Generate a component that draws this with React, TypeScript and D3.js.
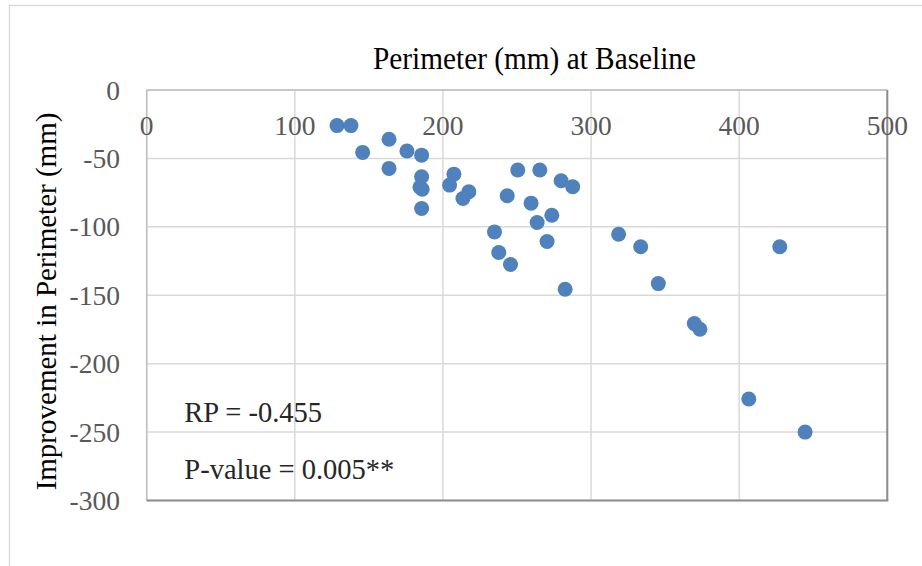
import React from "react";
import * as d3 from "d3";

const baselinePerimeter: number[] = [
  128.5, 137.9, 145.8, 163.6, 163.6, 175.7, 185.6, 185.6, 184.5, 186.0, 185.6,
  204.5, 207.4, 217.5, 213.5, 250.5, 265.4, 279.8, 287.6, 243.4, 259.5, 273.5,
  263.6, 234.8, 270.3, 237.7, 245.6, 282.5, 318.6, 333.5, 345.4, 427.4, 369.7,
  373.5, 406.5, 444.5,
];
const improvement: number[] = [
  -26, -26, -45.6, -36, -57.3, -44.6, -47.6, -63.4, -71, -72.5, -86.6,
  -69.5, -61.5, -74.4, -79.3, -58.5, -58.5, -66.3, -70.7, -77.3, -82.7, -91.5,
  -96.8, -103.7, -110.7, -118.8, -127.5, -145.6, -105.4, -114.6, -141.5, -114.6, -170.7,
  -174.9, -225.8, -250,
];
const xTicks: number[] = [0, 100, 200, 300, 400, 500];
const yTicks: number[] = [0, -50, -100, -150, -200, -250, -300];
const chartTitle = "Perimeter (mm) at Baseline";
const yTitle = "Improvement in Perimeter (mm)";
const annotations: string[] = ["RP = -0.455", "P-value = 0.005**"];

export default function App() {
  const W = 922;
  const H = 566;
  const left = 146.7;
  const right = 887.3;
  const top = 90;
  const bottom = 500.5;
  const x = d3.scaleLinear().domain([0, 500]).range([left, right]);
  const y = d3.scaleLinear().domain([0, -300]).range([top, bottom]);
  const font = "'Liberation Serif', 'Times New Roman', serif";
  const pts = baselinePerimeter.map((v, i) => ({ x: v, y: improvement[i] }));

  return (
    <svg
      width={W}
      height={H}
      style={{ position: "absolute", left: 0, top: 0, background: "#fff" }}
      fontFamily={font}
    >
      <rect x={0} y={0} width={W} height={H} fill="#fff" />
      <rect x={9.5} y={5.5} width={W} height={H} fill="none" stroke="#d9d9d9" strokeWidth={1.3} />
      <text
        transform="translate(534.5,68.5) scale(1,1.06)"
        textAnchor="middle"
        fontSize={29.3}
        fill="#000"
      >
        {chartTitle}
      </text>
      {/* gridlines */}
      {xTicks.map((t) => (
        <line key={"gx" + t} x1={x(t)} x2={x(t)} y1={top} y2={bottom} stroke="#d9d9d9" strokeWidth={1.5} />
      ))}
      {yTicks.map((t) => (
        <line key={"gy" + t} x1={left} x2={right} y1={y(t)} y2={y(t)} stroke="#d9d9d9" strokeWidth={1.5} />
      ))}
      {/* axis lines */}
      <line x1={left} x2={right} y1={y(0)} y2={y(0)} stroke="#bfbfbf" strokeWidth={1.5} />
      <line x1={x(0)} x2={x(0)} y1={top} y2={bottom} stroke="#bfbfbf" strokeWidth={1.5} />
      <line x1={right} x2={right} y1={top} y2={bottom} stroke="#8c8c8c" strokeWidth={2} />
      <line x1={left} x2={right + 1} y1={bottom} y2={bottom} stroke="#8c8c8c" strokeWidth={2} />
      {/* tick labels */}
      {xTicks.map((t) => (
        <text key={"tx" + t} x={x(t)} y={135} textAnchor="middle" fontSize={27.5} fill="#595959">
          {t}
        </text>
      ))}
      {yTicks.map((t) => (
        <text key={"ty" + t} x={120} y={y(t) + 9.5} textAnchor="end" fontSize={27.5} fill="#595959">
          {t}
        </text>
      ))}
      <text
        transform={`translate(56,301.5) rotate(-90)`}
        textAnchor="middle"
        fontSize={29}
        fill="#000"
      >
        {yTitle}
      </text>
      {/* points */}
      {pts.map((p, i) => (
        <circle key={i} cx={x(p.x)} cy={y(p.y)} r={7.5} fill="#4f81bd" />
      ))}
      {/* annotations */}
      {annotations.map((a, i) => (
        <text key={a} x={184.3} y={422.3 + i * 56.7} fontSize={28.5} fill="#262626">
          {a}
        </text>
      ))}
    </svg>
  );
}
